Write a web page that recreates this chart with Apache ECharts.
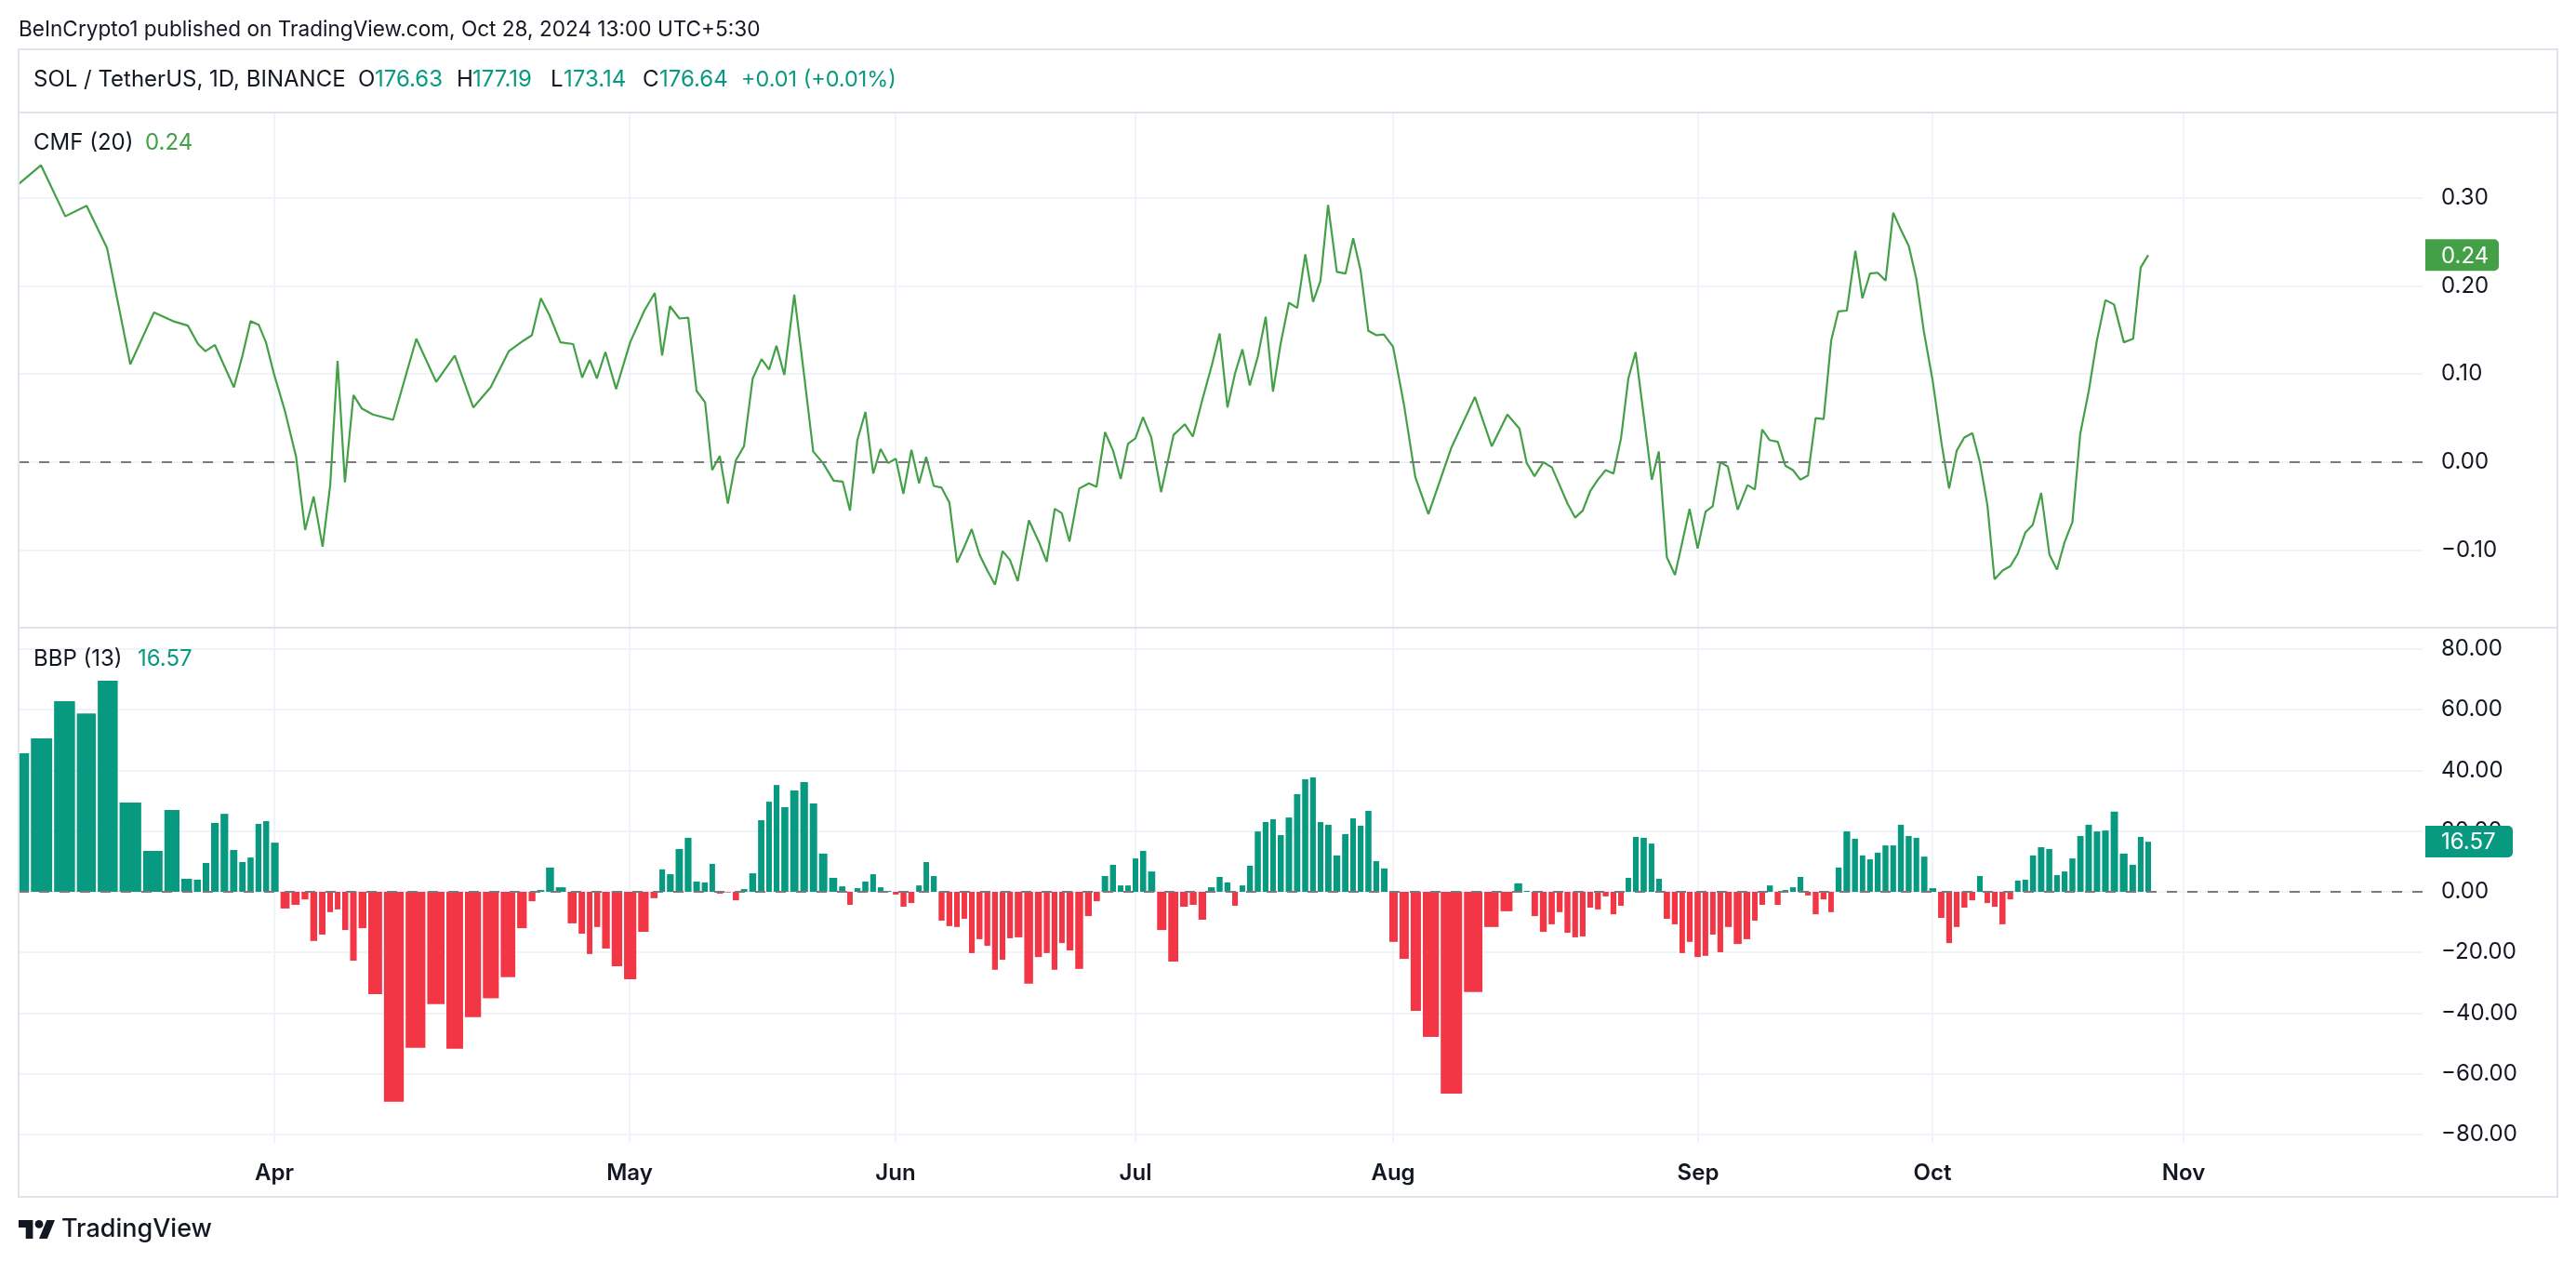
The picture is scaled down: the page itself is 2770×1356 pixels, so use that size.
<!DOCTYPE html>
<html>
<head>
<meta charset="utf-8">
<title>SOL / TetherUS</title>
<script src="https://cdn.jsdelivr.net/npm/echarts@6/dist/echarts.min.js"></script>
<style>
html, body { margin: 0; padding: 0; background: #fff; }
#chart { width: 2770px; height: 1356px; }
</style>
</head>
<body>
<div id="chart"></div>
<script>
// position of each daily session along the picture's uneven time axis
var sessionPos = [
    20.4, 44.1, 70.2, 93.1, 115.1, 140.1, 165.6, 186.0, 202.0, 213.0, 220.9, 231.1, 241.3, 251.5, 261.0, 269.4, 278.1, 286.0, 294.9,
    306.4, 318.4, 328.1, 337.2, 346.9, 355.1, 363.0, 370.9, 380.1, 389.0, 401.0, 422.7, 447.7, 469.1, 489.0, 508.9, 527.6, 547.2, 563.0, 571.9, 581.6, 590.8, 602.6, 616.3, 626.0, 634.2, 641.8, 651.0, 662.5,
    677.6, 692.9, 704.1, 712.0, 720.4, 730.6, 740.1, 749.0, 758.2, 765.8, 774.0, 782.7, 791.3, 800.0, 809.4, 818.9, 827.0, 834.9, 843.4, 854.1, 865.1, 874.5, 884.9, 896.4, 906.1, 914.0, 921.9, 930.6, 939.0, 946.9, 955.1,
    963.3, 971.4, 980.1, 988.3, 995.9, 1004.1, 1012.5, 1020.9, 1029.1, 1037.0, 1044.9, 1053.3, 1061.7, 1069.9, 1078.1, 1086.0, 1094.4, 1106.4, 1117.3, 1125.5, 1134.2, 1141.8, 1150.0, 1160.5, 1170.9, 1179.1, 1188.3, 1196.9, 1205.1, 1213.0,
    1220.9, 1229.1, 1238.0, 1248.5, 1262.0, 1274.0, 1282.7, 1292.9, 1303.1, 1311.5, 1319.9, 1328.1, 1336.0, 1343.9, 1352.6, 1361.0, 1368.9, 1377.0, 1386.0, 1394.9, 1403.6, 1412.0, 1419.9, 1428.1, 1437.5, 1446.9, 1455.1, 1463.0, 1471.4, 1480.1, 1488.0,
    1498.0, 1509.9, 1521.9, 1536.0, 1560.5, 1586.0, 1604.1, 1620.9, 1633.9, 1641.7, 1650.1, 1659.6, 1668.8, 1677.0, 1685.6, 1693.8, 1701.9, 1710.0, 1718.2, 1726.6, 1735.0, 1743.1, 1751.0, 1758.8, 1767.5, 1776.2, 1783.7, 1792.4, 1801.1, 1808.9, 1816.8,
    1825.5, 1834.1, 1841.7, 1849.9, 1858.0, 1868.6, 1879.1, 1887.0, 1894.9, 1903.0, 1911.7, 1919.8, 1927.9, 1936.0, 1944.2, 1952.3, 1961.0, 1969.1, 1976.7, 1985.9, 1995.1, 2002.7, 2010.8, 2019.0, 2027.6, 2035.8, 2043.9, 2052.6, 2060.7, 2068.8,
    2078.3, 2087.8, 2095.9, 2104.1, 2112.2, 2120.9, 2129.0, 2137.1, 2144.7, 2153.4, 2161.8, 2169.7, 2177.8, 2185.9, 2194.9, 2203.8, 2211.9, 2220.0, 2228.5, 2236.9, 2246.1, 2254.8, 2264.0, 2273.2, 2283.8, 2293.8, 2301.9, 2310.0
];

var cmfValues = [
    0.316, 0.337, 0.279, 0.291, 0.243, 0.111, 0.170, 0.160, 0.155, 0.134, 0.126, 0.133, 0.109, 0.085, 0.122, 0.160, 0.156, 0.136, 0.099,
    0.058, 0.006, -0.077, -0.039, -0.096, -0.026, 0.115, -0.023, 0.076, 0.061, 0.054, 0.048, 0.140, 0.091, 0.121, 0.062, 0.085, 0.126, 0.138, 0.144, 0.186, 0.167, 0.136, 0.134, 0.096, 0.116, 0.095, 0.125, 0.083,
    0.136, 0.172, 0.192, 0.121, 0.177, 0.163, 0.164, 0.081, 0.068, -0.009, 0.007, -0.047, 0.002, 0.018, 0.095, 0.117, 0.105, 0.132, 0.099, 0.190, 0.095, 0.012, -0.001, -0.021, -0.022, -0.055, 0.025, 0.057, -0.013, 0.015, -0.001,
    0.004, -0.036, 0.014, -0.024, 0.006, -0.027, -0.029, -0.046, -0.114, -0.096, -0.076, -0.105, -0.123, -0.139, -0.101, -0.111, -0.135, -0.066, -0.091, -0.113, -0.053, -0.058, -0.090, -0.030, -0.024, -0.028, 0.034, 0.013, -0.019, 0.021,
    0.027, 0.051, 0.028, -0.034, 0.031, 0.043, 0.029, 0.071, 0.110, 0.146, 0.062, 0.101, 0.128, 0.087, 0.120, 0.165, 0.080, 0.134, 0.181, 0.175, 0.236, 0.182, 0.206, 0.292, 0.216, 0.214, 0.254, 0.218, 0.149, 0.144, 0.145,
    0.131, 0.064, -0.017, -0.059, 0.016, 0.074, 0.018, 0.054, 0.038, -0.001, -0.016, 0.000, -0.006, -0.026, -0.047, -0.063, -0.055, -0.033, -0.020, -0.009, -0.013, 0.027, 0.095, 0.125, 0.053, -0.020, 0.012, -0.108, -0.128, -0.091, -0.053,
    -0.098, -0.056, -0.050, 0.000, -0.005, -0.054, -0.026, -0.031, 0.037, 0.025, 0.023, -0.004, -0.009, -0.020, -0.015, 0.050, 0.049, 0.138, 0.171, 0.172, 0.240, 0.186, 0.214, 0.215, 0.206, 0.283, 0.264, 0.245, 0.208, 0.148,
    0.092, 0.021, -0.030, 0.013, 0.028, 0.033, 0.000, -0.049, -0.133, -0.123, -0.118, -0.104, -0.080, -0.071, -0.035, -0.105, -0.122, -0.091, -0.068, 0.032, 0.081, 0.138, 0.184, 0.179, 0.136, 0.140, 0.221, 0.235
];

var bbpValues = [
    45.7, 50.6, 62.8, 58.8, 69.6, 29.4, 13.5, 27.0, 4.3, 4.0, 9.5, 22.7, 25.7, 13.8, 9.8, 11.3, 22.4, 23.3, 16.2,
    -5.5, -4.3, -2.5, -16.2, -14.1, -6.7, -5.8, -12.6, -22.7, -12.0, -33.7, -69.2, -51.4, -37.0, -51.7, -41.3, -35.1, -28.1, -12.0, -3.1, 0.6, 8.0, 1.5, -10.4, -13.8, -20.5, -11.6, -18.7, -24.5,
    -28.8, -13.2, -2.1, 7.4, 5.8, 14.1, 17.8, 3.4, 3.1, 9.2, -0.6, -0.2, -2.8, 0.9, 6.1, 23.6, 29.7, 35.2, 27.9, 33.4, 36.2, 29.1, 12.6, 4.6, 1.8, -4.3, 1.2, 3.4, 5.8, 1.5, 0.3,
    -0.9, -4.9, -3.7, 2.1, 9.8, 5.2, -9.5, -11.3, -11.6, -8.9, -20.2, -15.6, -17.8, -25.7, -22.4, -15.3, -15.0, -30.3, -21.5, -20.2, -25.7, -16.9, -19.3, -25.4, -8.0, -3.1, 5.2, 8.9, 2.1, 2.1,
    11.0, 13.5, 6.7, -12.6, -23.0, -4.9, -4.3, -9.2, 1.5, 4.9, 3.1, -4.6, 2.1, 8.6, 19.9, 23.0, 23.9, 18.7, 24.5, 32.2, 37.1, 37.7, 23.0, 22.1, 12.0, 19.0, 24.2, 21.8, 26.7, 10.1, 7.7,
    -16.5, -22.1, -39.2, -47.8, -66.5, -33.0, -11.6, -6.4, 2.8, 0.3, -8.0, -13.2, -10.7, -6.7, -13.5, -15.0, -14.7, -5.2, -5.8, -1.5, -7.4, -4.6, 4.6, 18.1, 17.8, 15.9, 4.3, -8.9, -10.7, -20.2, -16.5,
    -21.5, -21.1, -14.1, -19.9, -11.6, -17.2, -15.6, -9.5, -4.3, 2.1, -4.3, 0.6, 1.5, 4.9, -1.2, -7.4, -2.5, -6.7, 8.0, 19.9, 17.5, 12.0, 10.7, 12.9, 15.3, 15.3, 22.1, 18.4, 17.8, 11.6,
    1.2, -8.6, -16.9, -11.6, -5.2, -2.8, 5.2, -3.7, -4.9, -10.7, -2.5, 3.7, 4.0, 12.0, 14.7, 14.1, 5.5, 6.7, 11.0, 18.4, 22.1, 19.9, 20.2, 26.4, 12.6, 8.9, 18.1, 16.5
];

var monthLabels = ['Apr', 'May', 'Jun', 'Jul', 'Aug', 'Sep', 'Oct', 'Nov'];
var monthPos = [295, 677, 963, 1221, 1498, 1826, 2078, 2348];
var cmfTicks = [-0.1, 0, 0.1, 0.2, 0.3];
var bbpTicks = [-80, -60, -40, -20, 0, 20, 40, 60, 80];

var cmfLast = 0.235;
var bbpLast = 16.57;

var publishedText = 'BeInCrypto1 published on TradingView.com, Oct 28, 2024 13:00 UTC+5:30';
var symbolText = 'SOL / TetherUS, 1D, BINANCE';
var ohlcKeys = ['O', 'H', 'L', 'C'];
var ohlcValues = ['176.63', '177.19', '173.14', '176.64'];
var changeText = '+0.01 (+0.01%)';

var FONT = 'Inter, "Noto Sans", sans-serif';
var TEXT = '#131722';
var GRID = '#f0f3fa';
var BORDER = '#e0e3eb';
var LINE_GREEN = '#43a047';
var TEAL = '#089981';
var RED = '#f23645';
var DASH = '#7a7a7a';

var chart = echarts.init(document.getElementById('chart'), null, { renderer: 'canvas' });

function signedTick(digits) {
    return function (v) {
        var s = Math.abs(v).toFixed(digits);
        return v < -1e-9 ? '\u2212' + s : s;
    };
}

function zeroLine() {
    return {
        silent: true,
        symbol: 'none',
        z: 20,
        label: { show: false },
        lineStyle: { color: DASH, type: [11, 11], width: 2 },
        data: [[{ coord: [20, 0] }, { coord: [2605, 0] }]]
    };
}

function cmfPoints() {
    return sessionPos.map(function (x, i) { return [x, cmfValues[i]]; });
}

function bbpPoints() {
    return sessionPos.map(function (x, i) { return [x, bbpValues[i]]; });
}

// bar edges sit halfway to the neighbouring sessions, since the spacing is uneven
function renderBar(params, api) {
    var i = params.dataIndex;
    var x = sessionPos[i];
    var prev = i > 0 ? sessionPos[i - 1] : x - (sessionPos[1] - x);
    var next = i < sessionPos.length - 1 ? sessionPos[i + 1] : x + (x - sessionPos[i - 1]);
    var v = api.value(1);
    var a = api.coord([(prev + x) / 2, 0]);
    var b = api.coord([(x + next) / 2, v]);
    return {
        type: 'rect',
        shape: { x: a[0] + 1, y: Math.min(a[1], b[1]), width: b[0] - a[0] - 2, height: Math.abs(b[1] - a[1]) },
        style: { fill: v >= 0 ? TEAL : RED }
    };
}

function xAxisFor(gridIndex, withLabels) {
    return {
        type: 'value',
        gridIndex: gridIndex,
        min: 20,
        max: 2605,
        axisLine: { show: false },
        axisTick: { show: false, customValues: monthPos },
        splitLine: { show: true, lineStyle: { color: GRID, width: 2 } },
        axisLabel: {
            show: withLabels,
            customValues: monthPos,
            margin: 21,
            fontFamily: FONT,
            fontSize: 24,
            fontWeight: 600,
            color: TEXT,
            formatter: function (v) { return monthLabels[monthPos.indexOf(v)]; }
        }
    };
}

function yAxisFor(gridIndex, min, max, ticks, digits) {
    return {
        type: 'value',
        gridIndex: gridIndex,
        position: 'right',
        min: min,
        max: max,
        axisLine: { show: false },
        axisTick: { show: false, customValues: ticks },
        splitLine: { show: true, lineStyle: { color: GRID, width: 2 } },
        axisLabel: {
            customValues: ticks,
            margin: 20,
            padding: [3, 0, 0, 0],
            fontFamily: FONT,
            fontSize: 24,
            color: TEXT,
            align: 'left',
            formatter: signedTick(digits)
        }
    };
}

function label(x, y, text, color, size, weight) {
    return {
        type: 'text',
        x: x,
        y: y,
        z: 50,
        style: {
            text: text,
            fill: color,
            font: (weight || 400) + ' ' + (size || 24) + 'px ' + FONT,
            verticalAlign: 'middle'
        }
    };
}

function frameLine(y) {
    return { type: 'line', z: 40, shape: { x1: 20, y1: y, x2: 2750, y2: y }, style: { stroke: BORDER, lineWidth: 2 } };
}

var option = {
    animation: false,
    backgroundColor: '#fff',
    grid: [
        { left: 20, right: 165, top: 121, height: 554 },
        { left: 20, right: 165, top: 675, height: 554 }
    ],
    xAxis: [xAxisFor(0, false), xAxisFor(1, true)],
    yAxis: [
        yAxisFor(0, -0.1879, 0.3968, cmfTicks, 2),
        yAxisFor(1, -82.76, 87.05, bbpTicks, 2)
    ],
    series: [
        {
            name: 'CMF (20)',
            type: 'line',
            xAxisIndex: 0,
            yAxisIndex: 0,
            showSymbol: false,
            z: 10,
            lineStyle: { color: LINE_GREEN, width: 2.2 },
            data: cmfPoints(),
            markLine: zeroLine()
        },
        {
            name: 'BBP (13)',
            type: 'custom',
            xAxisIndex: 1,
            yAxisIndex: 1,
            clip: true,
            z: 5,
            encode: { x: 0, y: 1 },
            renderItem: renderBar,
            data: bbpPoints(),
            markLine: zeroLine()
        }
    ]
};

chart.setOption(option);

// price tags are placed from the axis scale, so they have to wait for the first layout
function priceTag(value, text, fill, axisIndex, width) {
    var y = chart.convertToPixel({ yAxisIndex: axisIndex }, value);
    return {
        type: 'group',
        z: 60,
        children: [
            {
                type: 'rect',
                z: 60,
                shape: { x: 2608, y: y - 17, width: width, height: 34, r: [0, 5, 5, 0] },
                style: { fill: fill }
            },
            {
                type: 'text',
                z: 61,
                x: 2625,
                y: y + 1,
                style: { text: text, fill: '#fff', font: '400 24px ' + FONT, verticalAlign: 'middle' }
            }
        ]
    };
}

var headerX = [385, 491, 592, 691];
var valueX = [403, 508, 606, 709];

var elements = [
    {
        type: 'rect',
        z: 40,
        shape: { x: 20, y: 53, width: 2730, height: 1234 },
        style: { fill: 'none', stroke: BORDER, lineWidth: 2 }
    },
    frameLine(121),
    frameLine(675),
    label(20, 32, publishedText, TEXT, 22.6),
    label(36, 86, symbolText, TEXT, 24),
    label(797, 86, changeText, TEAL, 23.4),
    label(36, 154, 'CMF (20)', TEXT, 24),
    label(156, 154, '0.24', LINE_GREEN, 24),
    label(36, 709, 'BBP (13)', TEXT, 24),
    label(148, 709, '16.57', TEAL, 24),
    {
        type: 'polygon',
        z: 50,
        shape: { points: [[20, 1312], [35.4, 1312], [35.4, 1332], [27.7, 1332], [27.7, 1320], [20, 1320]] },
        style: { fill: TEXT }
    },
    {
        type: 'polygon',
        z: 50,
        shape: { points: [[50.3, 1312], [59, 1312], [50.8, 1332], [42, 1332]] },
        style: { fill: TEXT }
    },
    {
        type: 'circle',
        z: 50,
        shape: { cx: 42, cy: 1316.4, r: 4.4 },
        style: { fill: TEXT }
    },
    label(66, 1322, 'TradingView', TEXT, 27, 500),
    priceTag(cmfLast, '0.24', LINE_GREEN, 0, 79),
    priceTag(bbpLast, '16.57', TEAL, 1, 94)
];

ohlcKeys.forEach(function (key, i) {
    elements.push(label(headerX[i], 86, key, TEXT, 24));
    elements.push(label(valueX[i], 86, ohlcValues[i], TEAL, 24));
});

chart.setOption({ graphic: { elements: elements } });
</script>
</body>
</html>
